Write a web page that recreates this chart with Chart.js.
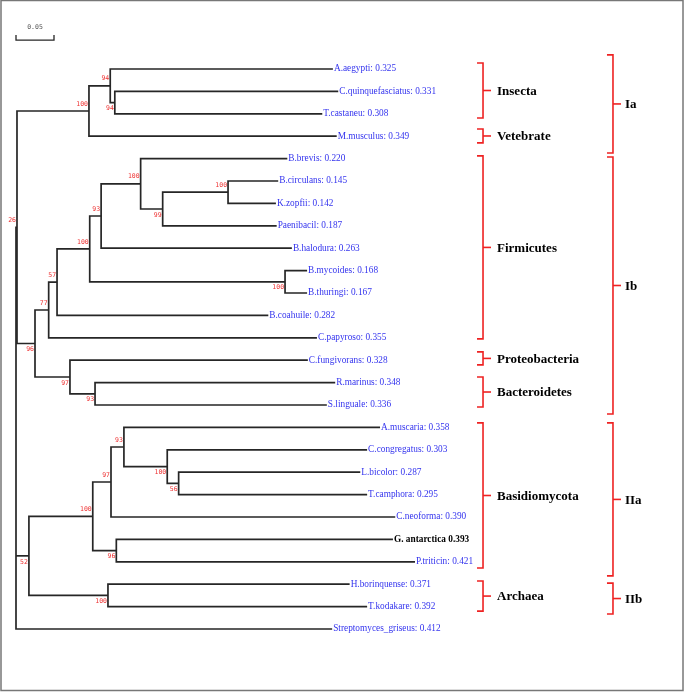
<!DOCTYPE html>
<html lang="en">
<head>
  <meta charset="UTF-8">
  <title>Phylogenetic tree</title>
  <style>
    body { margin: 0; background: #fff; }
    #tree { display: block; }
  </style>
</head>
<body>
  <canvas id="tree" width="685" height="692"></canvas>

  <script src="https://cdn.jsdelivr.net/npm/chart.js"></script>
  <script>
  // leaves, top to bottom (row index = position in list)
  const leafNames = ['A.aegypti', 'C.quinquefasciatus', 'T.castaneu', 'M.musculus', 'B.brevis',
    'B.circulans', 'K.zopfii', 'Paenibacil', 'B.halodura', 'B.mycoides', 'B.thuringi', 'B.coahuile',
    'C.papyroso', 'C.fungivorans', 'R.marinus', 'S.linguale', 'A.muscaria', 'C.congregatus',
    'L.bicolor', 'T.camphora', 'C.neoforma', 'G. antarctica', 'P.triticin', 'H.borinquense',
    'T.kodakare', 'Streptomyces_griseus'];
  const leafValues = ['0.325', '0.331', '0.308', '0.349', '0.220', '0.145', '0.142', '0.187', '0.263',
    '0.168', '0.167', '0.282', '0.355', '0.328', '0.348', '0.336', '0.358', '0.303', '0.287', '0.295',
    '0.390', '0.393', '0.421', '0.371', '0.392', '0.412'];
  // distance from root to each leaf tip
  const leafDepths = [0.417, 0.424, 0.403, 0.422, 0.357, 0.345, 0.342, 0.343, 0.363, 0.383, 0.383,
    0.332, 0.396, 0.384, 0.420, 0.409, 0.479, 0.462, 0.453, 0.462, 0.499, 0.496, 0.525, 0.439,
    0.462, 0.416];
  const highlightLeaf = 'G. antarctica';

  // internal nodes: children are leaf indexes or node ids
  const nodeIds = ['ins', 'ct', 'ia', 'cz', 'n99', 'bb', 'n93', 'bm', 'n100f', 'n57', 'n77', 'rs',
    'n97b', 'n96', 'grpI', 'b56', 'b100', 'b93', 'b97', 'gp', 'b100b', 'arc', 'n52', 'root'];
  const nodeKids = [[0, 'ct'], [1, 2], ['ins', 3], [5, 6], ['cz', 7], [4, 'n99'], ['bb', 8], [9, 10],
    ['n93', 'bm'], ['n100f', 11], ['n57', 12], [14, 15], [13, 'rs'], ['n77', 'n97b'], ['ia', 'n96'],
    [18, 19], [17, 'b56'], [16, 'b100'], ['b93', 20], [21, 22], ['b97', 'gp'], [23, 24],
    ['b100b', 'arc'], ['grpI', 'n52', 25]];
  const nodeDepths = [0.124, 0.130, 0.096, 0.279, 0.193, 0.164, 0.112, 0.354, 0.097, 0.054, 0.043,
    0.104, 0.071, 0.025, 0.0013, 0.214, 0.199, 0.142, 0.125, 0.132, 0.101, 0.121, 0.017, 0];
  const nodeSupport = ['94', '94', '100', '100', '99', '100', '93', '100', '100', '57', '77', '93',
    '97', '96', '26', '56', '100', '93', '97', '96', '100', '100', '52', ''];

  // clade brackets (row ranges)
  const cladeNames = ['Insecta', 'Vetebrate', 'Firmicutes', 'Proteobacteria', 'Bacteroidetes',
    'Basidiomycota', 'Archaea'];
  const cladeTop = [-0.27, 2.68, 3.88, 12.63, 13.75, 15.80, 22.86];
  const cladeBottom = [2.19, 3.30, 12.05, 13.21, 15.09, 22.28, 24.20];
  const groupNames = ['Ia', 'Ib', 'IIa', 'IIb'];
  const groupTop = [-0.63, 3.93, 15.80, 22.95];
  const groupBottom = [3.75, 15.40, 22.63, 24.33];

  const scaleBarLength = 0.05;

  // layout constants
  const cladeX = 0.6145, groupX = 0.7855, hook = 0.0079, tick = 0.0105;
  const scaleBarRow = -1.29, scaleTickRow = -1.52;
  const lineColor = '#262626';

  const nodeIndex = {};
  nodeIds.forEach((id, i) => nodeIndex[id] = i);

  function kidDepth(k) {
    return typeof k === 'number' ? leafDepths[k] : nodeDepths[nodeIndex[k]];
  }
  const nodeRow = {};
  function kidRow(k) {
    if (typeof k === 'number') return k;
    if (nodeRow[k] === undefined) {
      const kids = nodeKids[nodeIndex[k]];
      nodeRow[k] = (kidRow(kids[0]) + kidRow(kids[kids.length - 1])) / 2;
    }
    return nodeRow[k];
  }

  const datasets = [];
  function addPath(points, color, width) {
    datasets.push({
      data: points,
      showLine: true,
      borderColor: color,
      borderWidth: width,
      pointRadius: 0,
      tension: 0,
      fill: false
    });
  }

  // tree branches: one bracket per internal node
  nodeIds.forEach((id, i) => {
    const kids = nodeKids[i];
    const d = nodeDepths[i];
    const first = kids[0], last = kids[kids.length - 1];
    addPath([
      { x: kidDepth(first), y: kidRow(first) },
      { x: d, y: kidRow(first) },
      { x: d, y: kidRow(last) },
      { x: kidDepth(last), y: kidRow(last) }
    ], lineColor, 1.7);
    kids.slice(1, -1).forEach(k => {
      addPath([{ x: d, y: kidRow(k) }, { x: kidDepth(k), y: kidRow(k) }], lineColor, 1.7);
    });
  });

  // scale bar
  addPath([
    { x: 0, y: scaleTickRow }, { x: 0, y: scaleBarRow },
    { x: scaleBarLength, y: scaleBarRow }, { x: scaleBarLength, y: scaleTickRow }
  ], lineColor, 1.3);

  // red brackets
  function addBracket(x, top, bottom) {
    addPath([
      { x: x - hook, y: top }, { x: x, y: top },
      { x: x, y: bottom }, { x: x - hook, y: bottom }
    ], '#ee2222', 1.6);
    const mid = (top + bottom) / 2;
    addPath([{ x: x, y: mid }, { x: x + tick, y: mid }], '#ee2222', 1.6);
  }
  cladeNames.forEach((n, i) => addBracket(cladeX, cladeTop[i], cladeBottom[i]));
  groupNames.forEach((n, i) => addBracket(groupX, groupTop[i], groupBottom[i]));

  const textPlugin = {
    id: 'treeText',
    beforeDraw(chart) {
      const c = chart.ctx;
      c.save();
      c.fillStyle = '#fff';
      c.fillRect(0, 0, chart.width, chart.height);
      c.strokeStyle = '#777';
      c.lineWidth = 1.5;
      c.strokeRect(1, 0.5, 682, 690);
      c.restore();
    },
    afterDatasetsDraw(chart) {
      const c = chart.ctx;
      const xs = chart.scales.x, ys = chart.scales.y;
      c.save();
      c.textBaseline = 'middle';

      // leaf labels
      c.textAlign = 'left';
      leafNames.forEach((name, i) => {
        const x = xs.getPixelForValue(leafDepths[i]) + 1;
        const y = ys.getPixelForValue(i);
        if (name === highlightLeaf) {
          c.font = 'bold 9.3px "Liberation Serif"';
          c.fillStyle = '#000';
          c.fillText(name + ' ' + leafValues[i], x, y);
        } else {
          c.font = '9.3px "Liberation Serif"';
          c.fillStyle = '#3333ee';
          c.fillText(name + ': ' + leafValues[i], x, y);
        }
      });

      // bootstrap values
      c.font = '6.5px "DejaVu Sans Mono"';
      c.fillStyle = '#ee3333';
      c.textAlign = 'right';
      nodeIds.forEach((id, i) => {
        if (!nodeSupport[i]) return;
        // first child of its parent -> label above, otherwise below
        let above = false;
        nodeKids.forEach(kids => { if (kids[0] === id) above = true; });
        const x = xs.getPixelForValue(nodeDepths[i]) - 1;
        const y = ys.getPixelForValue(kidRow(id)) + (above ? -7 : 6);
        c.fillText(nodeSupport[i], x, y);
      });

      // scale bar label
      c.fillStyle = '#555';
      c.textAlign = 'center';
      c.fillText(String(scaleBarLength), xs.getPixelForValue(scaleBarLength / 2), ys.getPixelForValue(-1.875));

      // clade and group names
      c.fillStyle = '#000';
      c.textAlign = 'left';
      c.font = 'bold 13px "Liberation Serif"';
      cladeNames.forEach((n, i) => {
        c.fillText(n, xs.getPixelForValue(cladeX) + 14, ys.getPixelForValue((cladeTop[i] + cladeBottom[i]) / 2) + 1);
      });
      groupNames.forEach((n, i) => {
        c.fillText(n, xs.getPixelForValue(groupX) + 12, ys.getPixelForValue((groupTop[i] + groupBottom[i]) / 2) + 1);
      });
      c.restore();
    }
  };

  new Chart(document.getElementById('tree'), {
    type: 'scatter',
    data: { datasets: datasets },
    options: {
      responsive: false,
      animation: false,
      layout: { padding: 0 },
      plugins: { legend: { display: false }, tooltip: { enabled: false } },
      scales: {
        x: { type: 'linear', display: false, min: -16 / 760, max: 669 / 760 },
        y: { type: 'linear', display: false, reverse: true, min: -69 / 22.4, max: 623 / 22.4 }
      }
    },
    plugins: [textPlugin]
  });
  </script>
</body>
</html>
